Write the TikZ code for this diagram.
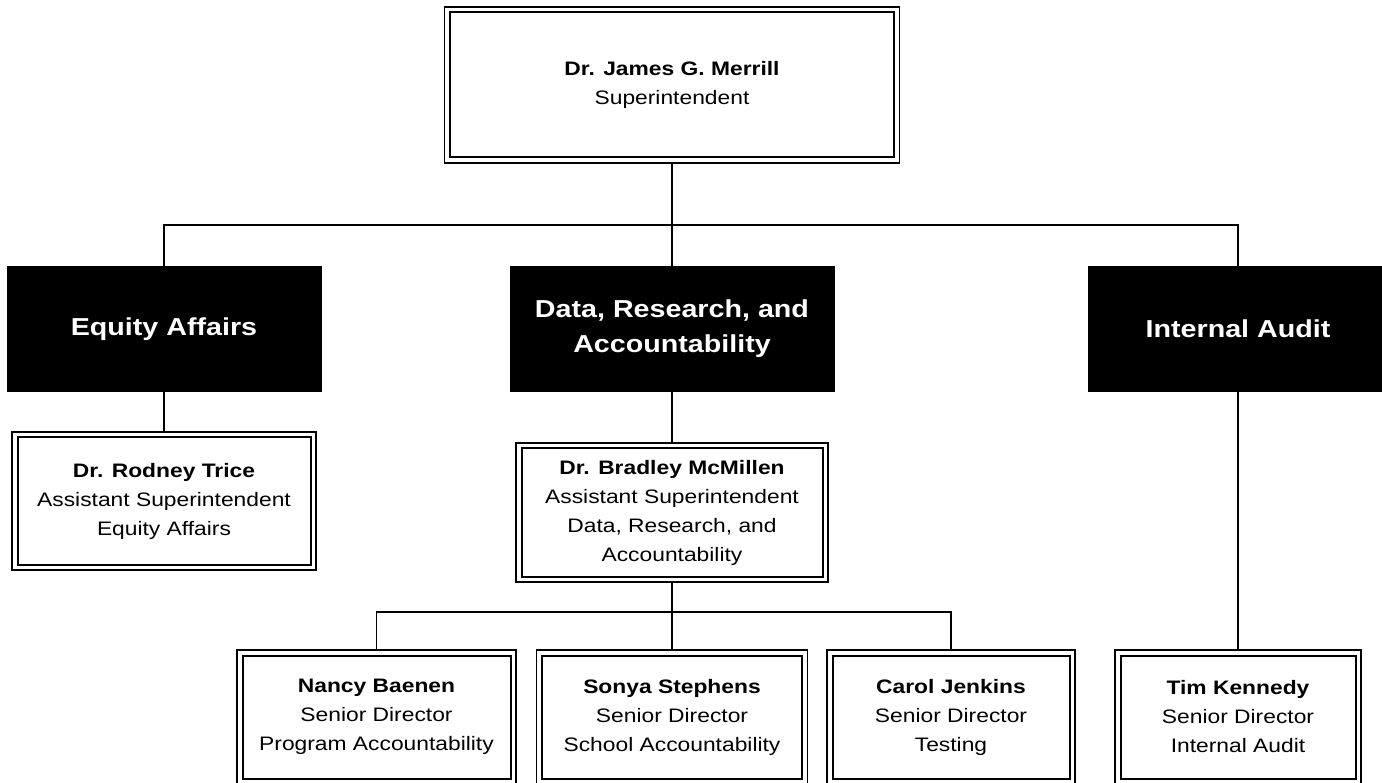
\documentclass[tikz,border=0pt]{standalone}
\usepackage{fontspec}
\setmainfont[FakeStretch=1.17]{Liberation Sans}

\tikzset{
    unit/.style={fill=black, text=white, align=center,
        font=\fontsize{24.5}{35}\selectfont\bfseries},
    person/.style={draw, line width=1.2pt, align=center,
        font=\fontsize{19.5}{29}\selectfont,
        path picture={\draw[line width=2pt]
            ([shift={(5.5pt,5.5pt)}]path picture bounding box.south west) rectangle
            ([shift={(-5.5pt,-5.5pt)}]path picture bounding box.north east);}},
    link/.style={line width=1.3pt}
}

\begin{document}
\begin{tikzpicture}[x=1pt, y=1pt]
            \clip (0,0) rectangle (1382,-783);
            \fill[white] (0,0) rectangle (1382,-783);

            % superintendent
            \node[person, minimum width=455pt, minimum height=156pt] (boss) at (672,-85)
                {\textbf{Dr. James G. Merrill}\\Superintendent};

            % departments
            \node[unit, minimum width=315pt, minimum height=126pt] (equity) at (164,-329) {Equity Affairs};
            \node[unit, minimum width=325pt, minimum height=126pt] (data) at (672,-329) {Data, Research, and\\Accountability};
            \node[unit, minimum width=300pt, minimum height=126pt] (audit) at (1238,-329) {Internal Audit};

            % assistant superintendents
            \node[person, minimum width=304pt, minimum height=138pt] (rodney) at (164,-501)
                {\textbf{Dr. Rodney Trice}\\Assistant Superintendent\\Equity Affairs};
            \node[person, minimum width=312pt, minimum height=139pt] (bradley) at (672,-512.5)
                {\textbf{Dr. Bradley McMillen}\\Assistant Superintendent\\Data, Research, and\\Accountability};

            % senior directors
            \node[person, minimum width=279pt, minimum height=134pt] (nancy) at (376.5,-717)
                {\textbf{Nancy Baenen}\\Senior Director\\Program Accountability};
            \node[person, minimum width=271pt, minimum height=134pt] (sonya) at (672,-717)
                {\textbf{Sonya Stephens}\\Senior Director\\School Accountability};
            \node[person, minimum width=248pt, minimum height=134pt] (carol) at (951,-717)
                {\textbf{Carol Jenkins}\\Senior Director\\Testing};
            \node[person, minimum width=246pt, minimum height=134pt] (tim) at (1238,-717)
                {\textbf{Tim Kennedy}\\Senior Director\\Internal Audit};

            % lines
            \coordinate (bar) at (672,-225);
            \coordinate (subbar) at (672,-612);
            \draw[link] (boss.south) -- (data.north);
            \draw[link] (equity.north) |- (bar) -| (audit.north);
            \draw[link] (equity.south) -- (rodney.north);
            \draw[link] (data.south) -- (bradley.north);
            \draw[link] (audit.south) -- (tim.north);
            \draw[link] (bradley.south) -- (sonya.north);
            \draw[link] (nancy.north) |- (subbar) -| (carol.north);
        \end{tikzpicture}
\end{document}
